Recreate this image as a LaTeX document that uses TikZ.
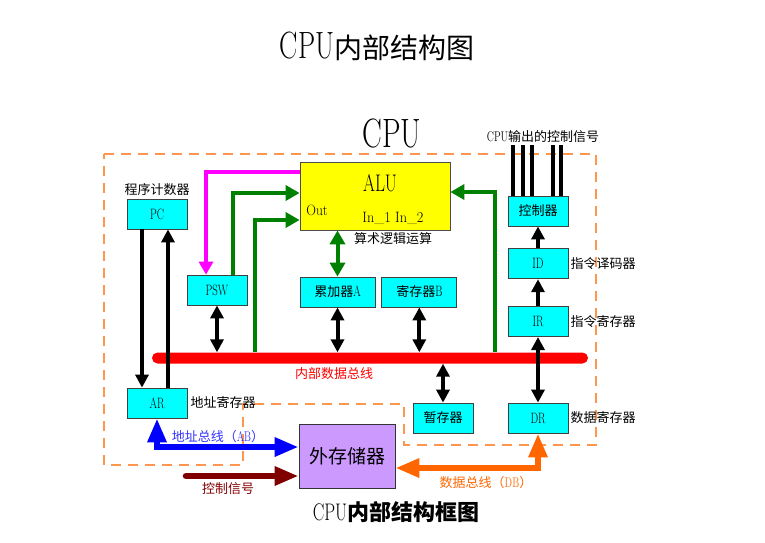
\documentclass[tikz,border=0pt]{standalone}
\usepackage{fontspec}
\usepackage{graphicx}
\usetikzlibrary{positioning}
\usetikzlibrary{arrows.meta}
\usetikzlibrary{shapes.misc}
\newfontfamily\cjk{Noto Sans CJK SC}
\newcommand{\fsz}[1]{\fontsize{#1}{#1}\selectfont}
\newcommand{\nrw}[2]{\scalebox{0.72}[1]{\normalfont\fsz{#1}#2}}
\definecolor{regcyan}{RGB}{0,255,255}
\definecolor{aluyellow}{RGB}{255,255,0}
\definecolor{extpurple}{RGB}{204,153,255}
\definecolor{busgreen}{RGB}{0,128,0}
\definecolor{pswmagenta}{RGB}{255,0,255}
\definecolor{ctldarkred}{RGB}{128,0,0}
\definecolor{dborange}{RGB}{255,102,0}
\definecolor{framecol}{RGB}{255,150,80}
\definecolor{abblue}{RGB}{0,0,255}
\tikzset{
reg/.style={
  draw=black!75,
  line width=0.8pt,
  fill=regcyan,
  minimum width=60pt,
  minimum height=30pt,
  inner sep=0pt,
  font=\cjk\fsz{13}
  },
lbl/.style={
  inner sep=1pt,
  font=\cjk\fsz{13}
  },
blk/.style={draw=black,line width=4pt,>={Triangle[length=13pt,width=13pt]}},
grn/.style={draw=busgreen,line width=4pt,>={Triangle[length=14pt,width=15pt]}},
mag/.style={draw=pswmagenta,line width=4pt,>={Triangle[length=13pt,width=14pt]}},
sig/.style={draw=black,line width=3.2pt},
wide/.style={line width=6.5pt,>={Triangle[length=24pt,width=18pt]}}
}

\begin{document}
\begin{tikzpicture}[x=1pt,y=-1pt]
    \useasboundingbox (0,0) rectangle (765,542);
    % titles
    \node (title) at (377,46) {\nrw{38}{CPU}{\cjk\fsz{28}内部结构图}};
    \node (cputxt) at (392,133) {\nrw{41}{CPU}};
    \node (caption) at (396,512) {\nrw{24}{CPU}{\cjk\bfseries\fsz{22}内部结构框图}};
    % cpu border
    \draw[framecol,line width=1.3pt,dash pattern=on 10pt off 7pt]
      (104,154) -- (596,154) -- (596,445) -- (404,445) -- (404,404)
      -- (243,404) -- (243,465) -- (104,465) -- cycle;

    \node[draw=black!70,line width=0.8pt,fill=aluyellow,minimum width=150pt,minimum height=68pt] (alu) at (375,196) {};
    \node (aluname) at (380,183) {\nrw{24}{ALU}};
    \node (aluout) at (317,210) {\scalebox{0.9}[1]{\fsz{15}Out}};
    \node (aluin) at (393,218) {\scalebox{0.95}[1]{\fsz{15}In\_1 In\_2}};
    \node[lbl] (alulbl) at (393,239) {算术逻辑运算};

    \node[reg] (pc) at (157,214) {\nrw{15}{PC}};
    \node[lbl, above=2pt of pc] (pclbl) {程序计数器};
    \node[reg] (psw) at (217,290) {\nrw{15}{PSW}};
    \node[reg, minimum width=75pt] (acc) at (337.5,292) {累加器\nrw{15}{A}};
    \node[reg, minimum width=75pt, right=6pt of acc] (regb) {寄存器\nrw{15}{B}};
    \node[reg] (ctrl) at (538,211) {控制器};
    \node[reg, below=22pt of ctrl] (id) {\nrw{15}{ID}};
    \node[reg, below=27pt of id] (ir) {\nrw{15}{IR}};
    \node[reg] (ar) at (157,403) {\nrw{15}{AR}};
    \node[reg] (tmp) at (443,418) {暂存器};
    \node[reg] (dr) at (538,418) {\nrw{15}{DR}};
    \node[lbl, right=1pt of id] (idlbl) {指令译码器};
    \node[lbl, right=1pt of ir] (irlbl) {指令寄存器};
    \node[lbl, right=1pt of dr] (drlbl) {数据寄存器};
    \node[lbl, right=2pt of ar] (arlbl) {地址寄存器};
    \node[draw=black!80,line width=0.8pt,fill=extpurple,minimum width=96pt,minimum height=64pt,font=\cjk\fsz{19}] (ext) at (347,456) {外存储器};

    \node[rounded rectangle,fill=red,minimum width=436pt,minimum height=11pt,inner sep=0pt] (bus) at (370,358) {};
    \node[lbl, text=red] (buslbl) at (334,374) {内部数据总线};

    \coordinate (g2) at (255,300);
    \coordinate (g4) at (495,300);
    \coordinate (sigtop) at (538,145);
    \coordinate (ctlsrc) at (186,476);
    \node[lbl, above=1pt of sigtop, xshift=5pt] (siglbl) {\nrw{14}{CPU}输出的控制信号};

    % pc / ar
    \draw[blk,->] ([xshift=-15pt]pc.south) -- ([xshift=-15pt]ar.north);
    \draw[blk,->] ([xshift=11pt]ar.north) -- ([xshift=11pt]pc.south);
    % alu links
    \draw[mag,->] ([yshift=24pt]alu.west) -| ([xshift=-11pt]psw.north);
    \draw[grn,->] ([xshift=16pt]psw.north) |- ([yshift=3pt]alu.west);
    \draw[grn,->] (bus.north -| g2) |- ([yshift=-24pt]alu.west);
    \draw[grn,->] (bus.north -| g4) |- ([yshift=4pt]alu.east);
    \draw[grn,<->] (acc.north |- alu.south) -- (acc.north);
    % bus links
    \draw[blk,<->] (psw.south) -- (psw.south |- bus.north);
    \draw[blk,<->] (acc.south) -- (acc.south |- bus.north);
    \draw[blk,<->] (regb.south) -- (regb.south |- bus.north);
    \draw[blk,<->] (tmp.north |- bus.south) -- (tmp.north);
    \draw[blk,<->] (ir.south) -- (dr.north);
    \draw[blk,->] (ir.north) -- (id.south);
    \draw[blk,->] (id.north) -- (ctrl.south);
    \foreach \dx in {-25,-15,-6,15,23}
      \draw[sig] ([xshift=\dx pt]ctrl.north) -- ([xshift=\dx pt]sigtop);
    % external buses
    \draw[wide,abblue,<->] (ar.south) |- ([yshift=9pt]ext.west);
    \draw[wide,ctldarkred,line cap=round,->] (ctlsrc) -- (ctlsrc -| ext.west);
    \draw[wide,dborange,<->] (dr.south) |- ([yshift=-12pt]ext.east);
    \node[lbl, text=abblue!80] (ablbl) at (218,437) {地址总线（\nrw{14}{AB}）};
    \node[lbl, text=ctldarkred] (cslbl) at (228,489) {控制信号};
    \node[lbl, text=dborange] (dblbl) at (486,483) {数据总线（\nrw{14}{DB}）};
\end{tikzpicture}
\end{document}
